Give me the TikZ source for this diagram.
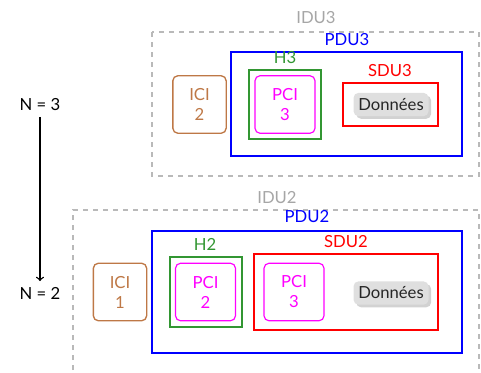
\documentclass[tikz,border=0pt]{standalone}
\usepackage{fontspec}
\setmainfont{Lato}
\usetikzlibrary{shadows}

\definecolor{pcimag}{RGB}{255,0,255}
\definecolor{hgreen}{RGB}{50,150,50}
\definecolor{icibrown}{RGB}{190,120,70}

\tikzset{
  idu/.style={draw=gray!55, dashed, line width=0.9pt},
  pdu/.style={draw=blue, line width=0.75pt},
  hdr/.style={draw=hgreen, line width=1.2pt},
  sdu/.style={draw=red, line width=0.7pt},
  ici/.style={draw=icibrown, text=icibrown, rounded corners=3pt, line width=0.8pt,
    align=center, minimum width=32pt, minimum height=34.5pt, inner sep=0pt},
  pci/.style={draw=pcimag, text=pcimag, rounded corners=3pt, line width=0.7pt,
    align=center, minimum width=36pt, minimum height=34.5pt, inner sep=0pt},
  data/.style={fill=gray!25, rounded corners=3pt, text=black!85,
    minimum width=45pt, minimum height=14pt, inner sep=1pt,
    drop shadow={shadow xshift=1.6pt, shadow yshift=-1.6pt, fill=gray!70}},
}

\begin{document}
\begin{tikzpicture}[x=0.6pt,y=-0.6pt]
\useasboundingbox (0,0) rectangle (481,372);

% layer N = 3
\draw[idu] (152,32) rectangle (479,176);
\node[text=gray!70] (idu3) at (316,18) {IDU3};
\draw[pdu] (231,52) rectangle (462,156);
\node[text=blue] (pdu3) at (347,40) {PDU3};
\draw[hdr] (249,70) rectangle (321,139);
\node[text=hgreen] (h3) at (285,58) {H3};
\draw[sdu] (343,83) rectangle (438,126);
\node[text=red] (sdu3) at (390,71) {SDU3};
\node[ici] (ici2) at (199.5,104.5) {ICI\\2};
\node[pci] (pci3a) at (285,104.5) {PCI\\3};
\node[data] (data3) at (391,104.5) {Données};

% layer N = 2
\draw[idu] (73,380) -- (73,210) -- (479,210) -- (479,380);
\node[text=gray!70] (idu2) at (277,198) {IDU2};
\draw[pdu] (152,231) rectangle (462,353);
\node[text=blue] (pdu2) at (307,217) {PDU2};
\draw[hdr] (170,257) rectangle (242,327);
\node[text=hgreen] (h2) at (205,244) {H2};
\draw[sdu] (254,254) rectangle (438,330);
\node[text=red] (sdu2) at (346,242) {SDU2};
\node[ici] (ici1) at (120,292) {ICI\\1};
\node[pci] (pci2) at (205.5,292) {PCI\\2};
\node[pci] (pci3b) at (294,292) {PCI\\3};
\node[data] (data2) at (391,293) {Données};

% going down one layer
\node (n3) at (40,105) {N = 3};
\node (n2) at (40,293) {N = 2};
\draw[->, thick] (n3) -- (n2);
\end{tikzpicture}
\end{document}
